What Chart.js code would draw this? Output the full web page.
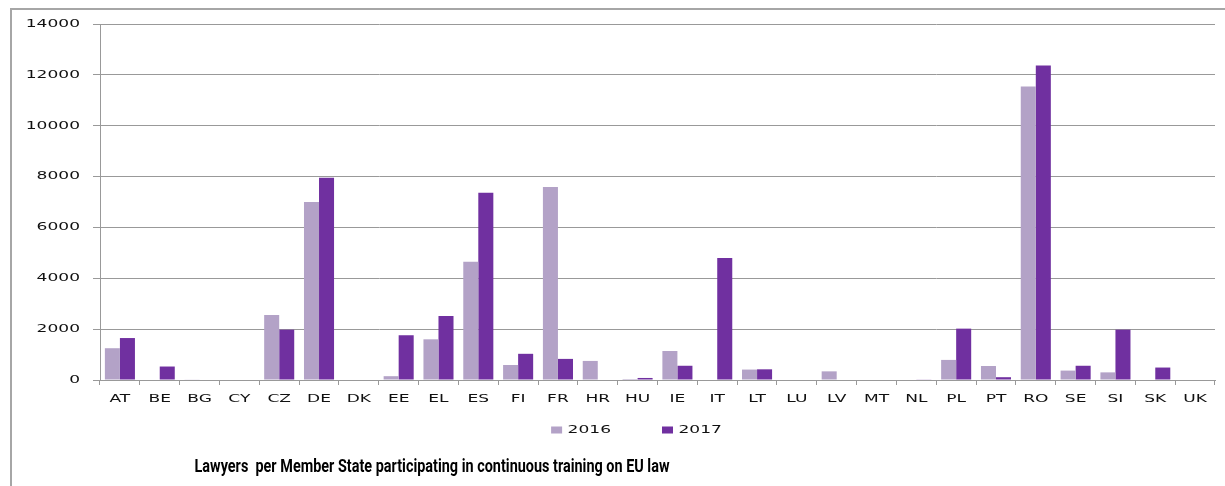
<!DOCTYPE html>
<html>
<head>
<meta charset="utf-8">
<script src="https://cdn.jsdelivr.net/npm/chart.js@4/dist/chart.umd.min.js"></script>
<style>
  html, body { margin: 0; padding: 0; background: #fff; overflow: hidden; }
  #frame { position: absolute; left: 10px; top: 8px; width: 1240px; height: 500px; border: 2px solid #a6a6a6; box-sizing: border-box; }
  #c { position: absolute; left: 0; top: 0; }
</style>
</head>
<body>
<div id="frame"></div>
<canvas id="c" width="1225" height="486"></canvas>
<script>
// ---- data ----
const categories = ['AT','BE','BG','CY','CZ','DE','DK','EE','EL','ES','FI','FR','HR','HU','IE','IT','LT','LU','LV','MT','NL','PL','PT','RO','SE','SI','SK','UK'];
const values2016 = [1250, 0, 15, 0, 2560, 7000, 0, 150, 1600, 4650, 590, 7590, 750, 40, 1140, 0, 410, 0, 340, 0, 0, 790, 550, 11540, 370, 300, 0, 0];
const values2017 = [1650, 530, 0, 20, 1980, 7950, 0, 1760, 2520, 7360, 1030, 830, 0, 80, 560, 4800, 420, 0, 0, 0, 15, 2020, 110, 12370, 560, 1980, 490, 0];
const seriesNames = ['2016', '2017'];
const yTicks = [0, 2000, 4000, 6000, 8000, 10000, 12000, 14000];
const titleText = 'Lawyers  per Member State participating in continuous training on EU law';

// ---- horizontally stretched text rendering (wide axis font, narrow title font) ----
const proto = CanvasRenderingContext2D.prototype;
const origFill = proto.fillText, origMeasure = proto.measureText;
const stretchMap = { 'DejaVu': 1.55, 'Roboto': 1 };
function stretchFor(font) {
  for (const k in stretchMap) if (font.indexOf(k) >= 0) return stretchMap[k];
  return 1;
}
// fit the title font to the reference title width
(function () {
  const tmp = document.createElement('canvas').getContext('2d');
  tmp.font = 'bold 17.5px Roboto';
  const w = origMeasure.call(tmp, titleText).width;
  stretchMap['Roboto'] = 475 / w;
})();
proto.fillText = function (text, x, y) {
  const s = stretchFor(this.font);
  if (s === 1) return origFill.apply(this, arguments);
  this.save();
  this.translate(x, y);
  this.scale(s, 1);
  origFill.call(this, text, 0, 0);
  this.restore();
};
proto.measureText = function (text) {
  const m = origMeasure.call(this, text);
  const s = stretchFor(this.font);
  if (s === 1) return m;
  return {
    width: m.width * s,
    actualBoundingBoxAscent: m.actualBoundingBoxAscent,
    actualBoundingBoxDescent: m.actualBoundingBoxDescent,
    actualBoundingBoxLeft: m.actualBoundingBoxLeft * s,
    actualBoundingBoxRight: m.actualBoundingBoxRight * s,
    fontBoundingBoxAscent: m.fontBoundingBoxAscent,
    fontBoundingBoxDescent: m.fontBoundingBoxDescent
  };
};

const axisFont = { family: 'DejaVu Sans', size: 11 };
const textColor = '#111';
const gridColor = '#999';

// positions of legend / title blocks (below the plot)
const boxPlacement = {
  id: 'boxPlacement',
  afterLayout(chart) {
    const lg = chart.legend;
    if (lg) {
      const pad = lg.options.labels.padding;
      lg.top = 430 - pad - 5.5;
      lg.height = 90;
      lg.bottom = lg.top + lg.height;
      lg.left += 19; lg.right += 19;
    }
    const t = chart.titleBlock;
    if (t) {
      const h = t.height;
      const cx = (t.left + t.right) / 2;
      const dx = 432 - cx;
      t.top = 468 - h / 2;
      t.bottom = t.top + h;
      t.left += dx; t.right += dx;
    }
  }
};

new Chart(document.getElementById('c'), {
  type: 'bar',
  data: {
    labels: categories,
    datasets: [
      { label: seriesNames[0], data: values2016, backgroundColor: '#B3A2C7', borderWidth: 0, categoryPercentage: 0.755, barPercentage: 1.0 },
      { label: seriesNames[1], data: values2017, backgroundColor: '#7030A0', borderWidth: 0, categoryPercentage: 0.755, barPercentage: 1.0 }
    ]
  },
  options: {
    responsive: false,
    animation: false,
    devicePixelRatio: 1,
    layout: { padding: { left: 20, right: 10, top: 24, bottom: 35 } },
    scales: {
      x: {
        grid: { display: true, drawOnChartArea: false, offset: true, tickLength: 5, color: gridColor },
        border: { color: gridColor },
        ticks: { font: axisFont, color: textColor, padding: 8, maxRotation: 0, autoSkip: false },
        afterFit: s => { s.height = 30; }
      },
      y: {
        min: 0, max: 14000,
        afterBuildTicks: s => { s.ticks = yTicks.map(v => ({ value: v })); },
        ticks: { font: axisFont, color: textColor, padding: 13, callback: v => String(v) },
        grid: { color: gridColor, tickLength: 7 },
        border: { color: gridColor },
        afterFit: s => { s.width = 80; }
      }
    },
    plugins: {
      legend: {
        position: 'bottom',
        maxHeight: 20,
        labels: { boxWidth: 11, boxHeight: 7, padding: 51, font: axisFont, color: textColor }
      },
      title: {
        display: true,
        position: 'bottom',
        text: titleText,
        color: '#000',
        padding: 0,
        font: { family: 'Roboto', size: 17.5, weight: 'bold' }
      },
      tooltip: { enabled: false }
    }
  },
  plugins: [boxPlacement]
});
</script>
</body>
</html>
